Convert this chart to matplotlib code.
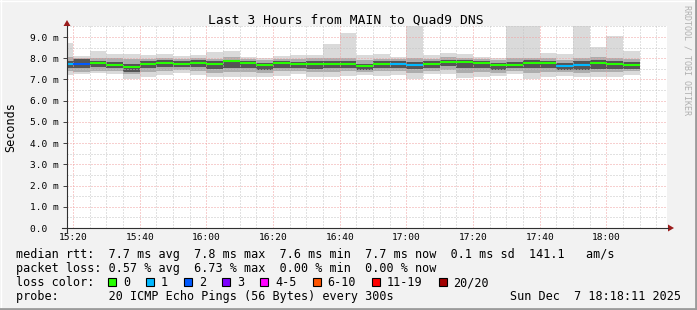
import matplotlib
matplotlib.use("Agg")
import matplotlib.pyplot as plt
from matplotlib.patches import Rectangle, Polygon

plt.rcParams['font.family'] = ['DejaVu Sans Mono', 'DejaVu Sans']

W, H = 697, 310

# ---------------- data ----------------
title = "Last 3 Hours from MAIN to Quad9 DNS"
first_bar = "15:15"
step_min = 5
view_start = "15:18:11"
view_end = "18:18:11"

median_ms = [7.74, 7.74, 7.79, 7.70, 7.59, 7.74, 7.79, 7.74, 7.79, 7.74,
             7.85, 7.79, 7.70, 7.79, 7.74, 7.74, 7.74, 7.74, 7.65, 7.74,
             7.74, 7.70, 7.74, 7.84, 7.84, 7.79, 7.67, 7.70, 7.79, 7.79,
             7.65, 7.70, 7.79, 7.74, 7.70]
loss_pings = [1, 2, 0, 0, 0, 0, 0, 0, 0, 0,
              0, 0, 0, 0, 0, 0, 0, 0, 0, 0,
              1, 1, 0, 0, 0, 0, 0, 0, 0, 0,
              1, 1, 0, 0, 0]
smoke_hi = [8.70, 8.11, 8.35, 8.20, 8.20, 8.15, 8.20, 8.11, 8.15, 8.28,
            8.34, 8.05, 8.00, 8.11, 8.15, 8.15, 8.67, 9.20, 8.15, 8.19,
            8.04, 9.60, 8.15, 8.25, 8.20, 8.05, 8.00, 9.60, 9.60, 8.24,
            8.19, 9.60, 8.55, 9.05, 8.34]
smoke_lo = [7.20, 7.25, 7.30, 7.28, 7.02, 7.13, 7.21, 7.32, 7.22, 7.10,
            7.10, 7.10, 7.12, 7.18, 7.26, 7.12, 7.10, 7.18, 7.22, 7.15,
            7.20, 7.02, 7.24, 7.28, 7.05, 7.12, 7.15, 7.24, 7.02, 7.13,
            7.18, 7.12, 7.12, 7.12, 7.20]
mid_hi = [8.05, 8.02, 8.00, 8.00, 7.95, 7.98, 8.00, 7.95, 8.02, 7.98,
          8.05, 7.95, 7.92, 7.98, 7.98, 8.00, 8.00, 8.00, 7.90, 7.98,
          7.95, 8.00, 7.98, 8.05, 8.02, 7.98, 7.92, 8.00, 8.02, 8.00,
          7.92, 8.02, 8.05, 8.00, 7.95]
mid_lo = [7.40, 7.35, 7.42, 7.40, 7.25, 7.35, 7.40, 7.45, 7.42, 7.30,
          7.35, 7.35, 7.30, 7.38, 7.40, 7.35, 7.35, 7.40, 7.35, 7.38,
          7.40, 7.30, 7.42, 7.45, 7.30, 7.35, 7.30, 7.40, 7.30, 7.35,
          7.35, 7.30, 7.35, 7.35, 7.38]
core_hi = [7.85, 7.95, 7.88, 7.80, 7.75, 7.88, 7.90, 7.85, 7.90, 7.85,
           7.92, 7.85, 7.78, 7.88, 7.82, 7.85, 7.88, 7.85, 7.75, 7.85,
           7.85, 7.82, 7.85, 7.92, 7.92, 7.88, 7.78, 7.82, 7.90, 7.88,
           7.78, 7.85, 7.92, 7.85, 7.80]
core_lo = [7.55, 7.55, 7.60, 7.55, 7.35, 7.55, 7.58, 7.60, 7.58, 7.50,
           7.55, 7.55, 7.45, 7.55, 7.55, 7.50, 7.52, 7.55, 7.45, 7.55,
           7.55, 7.50, 7.55, 7.62, 7.55, 7.55, 7.45, 7.55, 7.55, 7.55,
           7.45, 7.45, 7.50, 7.50, 7.50]

loss_labels = ["0", "1", "2", "3", "4-5", "6-10", "11-19", "20/20"]
loss_colors = ["#26ff00", "#00b8ff", "#0059ff", "#7e00ff",
               "#ff00ff", "#ff5500", "#ff0000", "#a10000"]

x_tick_labels = ["15:20", "15:40", "16:00", "16:20", "16:40",
                 "17:00", "17:20", "17:40", "18:00"]
y_tick_values = [0, 1, 2, 3, 4, 5, 6, 7, 8, 9]
y_tick_labels = ["0.0  ", "1.0 m", "2.0 m", "3.0 m", "4.0 m",
                 "5.0 m", "6.0 m", "7.0 m", "8.0 m", "9.0 m"]

row_rtt = "median rtt:  7.7 ms avg  7.8 ms max  7.6 ms min  7.7 ms now  0.1 ms sd  141.1   am/s"
row_loss = "packet loss: 0.57 % avg  6.73 % max  0.00 % min  0.00 % now"
row_color = "loss color:"
row_probe = "probe:       20 ICMP Echo Pings (56 Bytes) every 300s"
date_text = "Sun Dec  7 18:18:11 2025"
y_label = "Seconds"
watermark = "RRDTOOL / TOBI OETIKER"


def tmin(s):
    parts = [int(p) for p in s.split(":")]
    while len(parts) < 3:
        parts.append(0)
    return parts[0] * 60 + parts[1] + parts[2] / 60.0


def loss_index(n):
    if n <= 3:
        return n
    if n <= 5:
        return 4
    if n <= 10:
        return 5
    if n <= 19:
        return 6
    return 7


# ---------------- figure ----------------
fig = plt.figure(figsize=(W / 100, H / 100), dpi=100, facecolor="#f2f2f2")

ax_left, ax_right, ax_bottom, ax_top = 67, 667, 228, 26.4
ax = fig.add_axes([ax_left / W, 1 - ax_bottom / H,
                   (ax_right - ax_left) / W, (ax_bottom - ax_top) / H])
ax.set_facecolor("white")
x0, x1 = tmin(view_start), tmin(view_end)
ax.set_xlim(x0, x1)
ax.set_ylim(0, 9.5)

starts = [tmin(first_bar) + step_min * i for i in range(len(median_ms))]
lefts = [max(s, x0) for s in starts]
widths = [s + step_min - l for s, l in zip(starts, lefts)]

# smoke
ax.bar(lefts, [h - l for h, l in zip(smoke_hi, smoke_lo)], bottom=smoke_lo,
       width=widths, align="edge", color="#dadada", linewidth=0, zorder=1)
ax.bar(lefts, [h - l for h, l in zip(mid_hi, mid_lo)], bottom=mid_lo,
       width=widths, align="edge", color="#adadad", linewidth=0, zorder=1.1)
ax.bar(lefts, [h - l for h, l in zip(core_hi, core_lo)], bottom=core_lo,
       width=widths, align="edge", color="#555555", linewidth=0, zorder=1.2)

# grid (drawn over smoke)
grid_kw = dict(linestyle=(0, (1, 2)), linewidth=0.72, zorder=2)
t = (int(x0) // 5 + 1) * 5
while t < x1:
    if t % 20 != 0:
        ax.axvline(t, color="#c4c4c4", **grid_kw)
    t += 5
for v in [0.5 + i for i in range(10)]:
    ax.axhline(v, color="#c4c4c4", **grid_kw)
major_x = []
t = (int(x0) // 20 + 1) * 20
while t < x1:
    major_x.append(t)
    ax.axvline(t, color="#f0a0a0", **grid_kw)
    t += 20
for v in y_tick_values[1:]:
    ax.axhline(v, color="#f0a0a0", **grid_kw)

# median lines
ax.hlines(median_ms, lefts, [l + w for l, w in zip(lefts, widths)],
          colors=[loss_colors[loss_index(n)] for n in loss_pings],
          linewidth=1.5, zorder=3)

for s in ax.spines.values():
    s.set_visible(False)
ax.set_xticks(major_x)
ax.set_xticklabels(x_tick_labels[:len(major_x)])
ax.set_yticks(y_tick_values)
ax.set_yticklabels(y_tick_labels)
ax.tick_params(axis="x", length=0, pad=3.5, labelsize=6.8)
ax.tick_params(axis="y", length=3, width=0.7, color="#404040",
               pad=3.0, labelsize=6.8)

# ---------------- overlay in pixel coordinates ----------------
ov = fig.add_axes([0, 0, 1, 1], zorder=5)
ov.set_xlim(0, W)
ov.set_ylim(H, 0)
ov.axis("off")
ov.patch.set_alpha(0)

# frame shading
ov.plot([0, W], [0.5, 0.5], color="white", lw=1)
ov.plot([0.5, 0.5], [0, H], color="white", lw=1)
ov.plot([0, W], [H - 1.2, H - 1.2], color="#9b9b9b", lw=2)
ov.plot([W - 1.2, W - 1.2], [0, H], color="#9b9b9b", lw=2)

# axes lines and arrows
ov.plot([62, 668], [228, 228], color="#303030", lw=0.8)
ov.plot([67, 67], [232, 26], color="#303030", lw=0.8)
ov.add_patch(Polygon([[668, 224.5], [668, 231.5], [674, 228]],
                     closed=True, color="#9b1c1c", lw=0))
ov.add_patch(Polygon([[63.5, 26], [70.5, 26], [67, 20]],
                     closed=True, color="#9b1c1c", lw=0))

# texts
ov.text(346, 24, title, ha="center", va="baseline", fontsize=9.4)
ov.text(10.5, 127, y_label, ha="center", va="center", rotation=90, fontsize=8.5)
ov.text(686.5, 5, watermark, ha="center", va="top", rotation=270,
        fontsize=6.0, color="#b0b0b0")

fs = 8.5
ov.text(16, 258, row_rtt, ha="left", va="baseline", fontsize=fs)
ov.text(16, 272, row_loss, ha="left", va="baseline", fontsize=fs)
ov.text(16, 286, row_color, ha="left", va="baseline", fontsize=fs)
ov.text(16, 300, row_probe, ha="left", va="baseline", fontsize=fs)
ov.text(681, 300, date_text, ha="right", va="baseline", fontsize=fs)

char_w = 7.1
sx = 108
for lab, col in zip(loss_labels, loss_colors):
    ov.add_patch(Rectangle((sx, 278), 8, 8, facecolor=col,
                           edgecolor="black", lw=0.8))
    ov.text(sx + 15, 286, lab, ha="left", va="baseline", fontsize=fs)
    sx = sx + 15 + len(lab) * char_w + 16

fig.savefig("out.png", dpi=100, facecolor=fig.get_facecolor())
